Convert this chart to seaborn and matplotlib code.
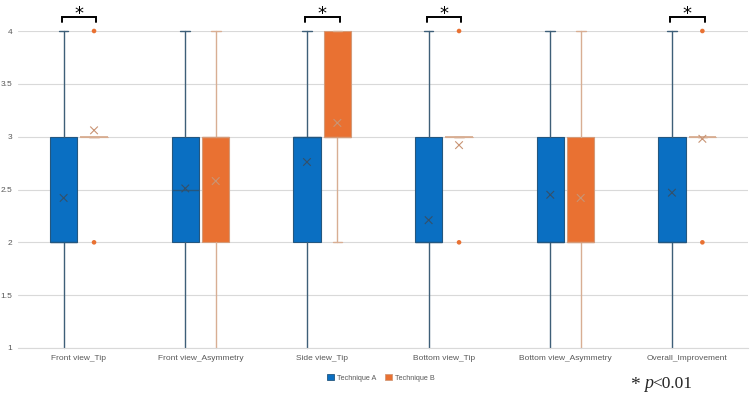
import numpy as np
import pandas as pd
import matplotlib
matplotlib.use("Agg")
import matplotlib.pyplot as plt
from matplotlib.patches import Patch
import seaborn as sns

# ---------------- data ----------------
categories = ["Front view_Tip", "Front view_Asymmetry", "Side view_Tip",
              "Bottom view_Tip", "Bottom view_Asymmetry", "Overall_Improvement"]
techniques = ["Technique A", "Technique B"]

a_whislo = [1, 1, 1, 1, 1, 1]
a_q1 = [2, 2, 2, 2, 2, 2]
a_med = [2, 2.5, 3, 2, 2, 2]
a_q3 = [3, 3, 3, 3, 3, 3]
a_whishi = [4, 4, 4, 4, 4, 4]
a_mean = [2.42, 2.51, 2.76, 2.21, 2.45, 2.47]
a_out = [[], [], [], [], [], []]

b_whislo = [3, 1, 2, 3, 1, 3]
b_q1 = [3, 2, 3, 3, 2, 3]
b_med = [3, 3, 3, 3, 2, 3]
b_q3 = [3, 3, 4, 3, 3, 3]
b_whishi = [3, 4, 4, 3, 4, 3]
b_mean = [3.06, 2.58, 3.13, 2.92, 2.42, 2.98]
b_out = [[2, 4], [], [], [2, 4], [], [2, 4]]

significant = [True, False, True, True, False, True]
yticks = [1, 1.5, 2, 2.5, 3, 3.5, 4]
ytick_labels = ["1", "1.5", "2", "2.5", "3", "3.5", "4"]

# ---------------- style ----------------
sns.set_theme(style="white")
plt.rcParams["font.family"] = ["Liberation Sans", "DejaVu Sans"]

BLUE = "#0A6FC2"
BLUE_EDGE = "#24577F"
BLUE_WHISK = "#3E5F78"
ORANGE = "#E97132"
ORANGE_EDGE = "#D49A78"
ORANGE_WHISK = "#D8AE93"
GRID = "#D9D9D9"
TXT = "#595959"

fig = plt.figure(figsize=(7.5, 3.95), dpi=100)
ax = fig.add_axes([18 / 750, 1 - 348 / 395, 730 / 750, 317 / 395])

off = 0.125
w = 0.225
xs = np.arange(len(categories))
y_min, y_max = 1, 4


def stats_list(lo, q1, med, q3, hi, mean):
    return [dict(whislo=lo[i], q1=q1[i], med=med[i], q3=q3[i], whishi=hi[i],
                 mean=mean[i], fliers=[], label=categories[i])
            for i in range(len(categories))]


for (lo, q1, med, q3, hi, mean, face, edge, wh, sign) in [
        (a_whislo, a_q1, a_med, a_q3, a_whishi, a_mean, BLUE, BLUE_EDGE, BLUE_WHISK, -1),
        (b_whislo, b_q1, b_med, b_q3, b_whishi, b_mean, ORANGE, ORANGE_EDGE, ORANGE_WHISK, 1)]:
    arts = ax.bxp(stats_list(lo, q1, med, q3, hi, mean), positions=xs + sign * off,
                  widths=w, patch_artist=True, showfliers=False, showmeans=False,
                  manage_ticks=False, capwidths=0.08,
                  boxprops=dict(facecolor=face, edgecolor=edge, linewidth=0.8),
                  whiskerprops=dict(color=wh, linewidth=1.0),
                  capprops=dict(color=wh, linewidth=1.0),
                  medianprops=dict(color=edge, linewidth=1.0))
    for k in ("whiskers", "caps", "medians", "boxes"):
        for art in arts[k]:
            art.set_clip_on(False)
    for cap in arts["caps"]:
        if np.allclose(cap.get_ydata(), y_min):
            cap.set_visible(False)
    if face == ORANGE:
        for i, art in enumerate(arts["medians"]):
            if q1[i] == q3[i]:
                art.set_color(wh)
                art.set_linewidth(1.3)

# means
mean_df = pd.DataFrame({
    "pos": np.concatenate([xs - off, xs + off]),
    "mean": a_mean + b_mean,
    "technique": [techniques[0]] * len(xs) + [techniques[1]] * len(xs),
})
sns.scatterplot(data=mean_df, x="pos", y="mean", hue="technique",
                palette={techniques[0]: "#34506A", techniques[1]: "#C99474"},
                marker="x", s=30, linewidth=0.8, legend=False, ax=ax, zorder=5)

# outliers
out_pos, out_val = [], []
for i, vals in enumerate(b_out):
    for v in vals:
        out_pos.append(xs[i] + off)
        out_val.append(v)
for i, vals in enumerate(a_out):
    for v in vals:
        out_pos.append(xs[i] - off)
        out_val.append(v)
out_df = pd.DataFrame({"pos": out_pos, "val": out_val})
sns.scatterplot(data=out_df, x="pos", y="val", color=ORANGE, s=11,
                edgecolor="none", ax=ax, zorder=6, clip_on=False)

# axes styling
ax.set_xlim(-0.5, len(categories) - 0.5)
ax.set_ylim(y_min, y_max)
ax.set_yticks(yticks)
ax.set_yticklabels(ytick_labels)
ax.set_xticks(xs)
ax.set_xticklabels(categories)
ax.tick_params(axis="both", length=0, labelsize=6, labelcolor=TXT)
ax.tick_params(axis="y", pad=4)
ax.tick_params(axis="x", pad=5)
ax.yaxis.grid(True, color=GRID, linewidth=0.8)
ax.set_axisbelow(True)
for s in ("top", "right", "left"):
    ax.spines[s].set_visible(False)
ax.spines["bottom"].set_color(GRID)
ax.spines["bottom"].set_linewidth(0.8)
ax.set_xlabel("")
ax.set_ylabel("")

# significance brackets
for i, sig in enumerate(significant):
    if sig:
        x1, x2 = xs[i] - 0.14, xs[i] + 0.145
        ax.plot([x1, x1, x2, x2], [4.083, 4.132, 4.132, 4.083], color="black",
                linewidth=1.4, clip_on=False, solid_joinstyle="miter")
        ax.text(xs[i], 4.165, "*", ha="center", va="center", fontsize=13,
                color="black", family=["DejaVu Sans"])

# legend
handles = [Patch(facecolor=BLUE, edgecolor=BLUE_EDGE, linewidth=0.6),
           Patch(facecolor=ORANGE, edgecolor=ORANGE_EDGE, linewidth=0.6)]
fig.legend(handles, techniques, loc="center", bbox_to_anchor=(381 / 750, 1 - 378 / 395),
           ncol=2, frameon=False, fontsize=5.2, handlelength=1.0, handleheight=0.9,
           handletextpad=0.4, columnspacing=1.2, labelcolor=TXT)

# p-value note
fig.text(630 / 750, 1 - 385 / 395, "*", fontsize=14, family=["Liberation Serif"],
         ha="left", va="center")
fig.text(644 / 750, 1 - 384 / 395, "p", fontsize=13, family=["Liberation Serif"],
         style="italic", ha="left", va="center")
fig.text(652 / 750, 1 - 384 / 395, "<0.01", fontsize=12.5, family=["Liberation Serif"],
         ha="left", va="center")

fig.savefig("out.png", dpi=100)
